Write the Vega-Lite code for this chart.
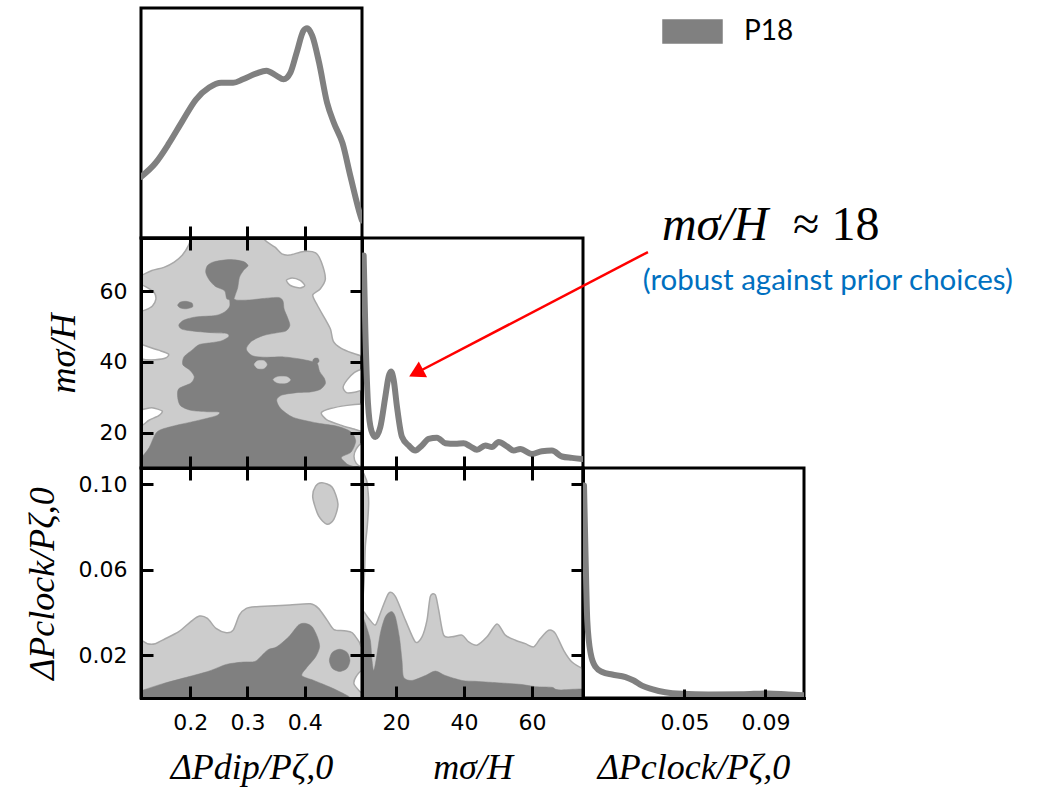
{
"$schema":"https://vega.github.io/schema/vega-lite/v6.json",
"background":"white",
"padding":{"left":22,"top":1,"right":5,"bottom":5},
"columns":3,
"spacing":0,
"bounds":"flush",
"config":{
"view":{"stroke":"black","strokeWidth":3},
"axis":{"domainColor":"black","domainWidth":3,"domainCap":"square","tickColor":"black","tickWidth":3,"tickSize":-12,"labelPadding":26,"labelFont":"DejaVu Sans","labelFontSize":22,"labelColor":"black","grid":false,"titleFont":"Liberation Serif","titleFontStyle":"italic","titleFontWeight":"normal","titleFontSize":36,"titleColor":"black","titlePadding":17}
},
"datasets":{
"d_dip":[{"dip":0.114,"dens":0.266},{"dip":0.139,"dens":0.325},{"dip":0.163,"dens":0.412},{"dip":0.186,"dens":0.507},{"dip":0.21,"dens":0.602},{"dip":0.233,"dens":0.654},{"dip":0.254,"dens":0.675},{"dip":0.275,"dens":0.675},{"dip":0.292,"dens":0.69},{"dip":0.316,"dens":0.716},{"dip":0.333,"dens":0.727},{"dip":0.351,"dens":0.705},{"dip":0.363,"dens":0.69},{"dip":0.375,"dens":0.719},{"dip":0.386,"dens":0.807},{"dip":0.398,"dens":0.902},{"dip":0.404,"dens":0.912},{"dip":0.413,"dens":0.88},{"dip":0.425,"dens":0.763},{"dip":0.439,"dens":0.588},{"dip":0.451,"dens":0.5},{"dip":0.466,"dens":0.412},{"dip":0.48,"dens":0.266},{"dip":0.498,"dens":0.091},{"dip":0.5,"dens":0.076}],
"d_m":[{"m":10.49,"dens":0.924},{"m":10.98,"dens":0.602},{"m":11.76,"dens":0.281},{"m":12.74,"dens":0.164},{"m":13.92,"dens":0.135},{"m":15.39,"dens":0.178},{"m":16.86,"dens":0.31},{"m":17.84,"dens":0.398},{"m":18.53,"dens":0.42},{"m":19.31,"dens":0.383},{"m":20.29,"dens":0.266},{"m":21.76,"dens":0.135},{"m":23.72,"dens":0.098},{"m":25.68,"dens":0.076},{"m":27.64,"dens":0.098},{"m":29.6,"dens":0.127},{"m":32.05,"dens":0.132},{"m":34.5,"dens":0.108},{"m":37.44,"dens":0.105},{"m":39.89,"dens":0.108},{"m":41.85,"dens":0.094},{"m":43.81,"dens":0.079},{"m":46.26,"dens":0.098},{"m":48.22,"dens":0.091},{"m":50.18,"dens":0.113},{"m":52.63,"dens":0.094},{"m":54.59,"dens":0.076},{"m":56.55,"dens":0.083},{"m":59.98,"dens":0.061},{"m":62.92,"dens":0.073},{"m":65.86,"dens":0.076},{"m":68.8,"dens":0.05},{"m":71.74,"dens":0.044},{"m":74.68,"dens":0.039}],
"d_clock":[{"clock":0.0005,"dens":0.924},{"clock":0.0013,"dens":0.602},{"clock":0.0021,"dens":0.339},{"clock":0.0038,"dens":0.193},{"clock":0.0062,"dens":0.135},{"clock":0.0095,"dens":0.113},{"clock":0.0144,"dens":0.102},{"clock":0.021,"dens":0.091},{"clock":0.025,"dens":0.076},{"clock":0.0291,"dens":0.054},{"clock":0.034,"dens":0.039},{"clock":0.0406,"dens":0.025},{"clock":0.0488,"dens":0.018},{"clock":0.0619,"dens":0.015},{"clock":0.0782,"dens":0.016},{"clock":0.0913,"dens":0.02},{"clock":0.1012,"dens":0.015},{"clock":0.1087,"dens":0.012}],
"c_dip_m":[
{"p":"W1","lv":"w","i":0,"dip":0.1,"m":77},{"p":"W1","lv":"w","i":1,"dip":0.204,"m":77},{"p":"W1","lv":"w","i":2,"dip":0.201,"m":75},{"p":"W1","lv":"w","i":3,"dip":0.197,"m":72.9},{"p":"W1","lv":"w","i":4,"dip":0.186,"m":70.1},{"p":"W1","lv":"w","i":5,"dip":0.172,"m":68.2},{"p":"W1","lv":"w","i":6,"dip":0.154,"m":66.7},{"p":"W1","lv":"w","i":7,"dip":0.133,"m":65.8},{"p":"W1","lv":"w","i":8,"dip":0.114,"m":64.4},{"p":"W1","lv":"w","i":9,"dip":0.1,"m":64},
{"p":"W2","lv":"w","i":0,"dip":0.324,"m":77},{"p":"W2","lv":"w","i":1,"dip":0.327,"m":75},{"p":"W2","lv":"w","i":2,"dip":0.334,"m":73.9},{"p":"W2","lv":"w","i":3,"dip":0.348,"m":72.4},{"p":"W2","lv":"w","i":4,"dip":0.36,"m":70.5},{"p":"W2","lv":"w","i":5,"dip":0.374,"m":70.2},{"p":"W2","lv":"w","i":6,"dip":0.398,"m":71.2},{"p":"W2","lv":"w","i":7,"dip":0.419,"m":70.8},{"p":"W2","lv":"w","i":8,"dip":0.429,"m":68.2},{"p":"W2","lv":"w","i":9,"dip":0.436,"m":63.4},{"p":"W2","lv":"w","i":10,"dip":0.427,"m":60.6},{"p":"W2","lv":"w","i":11,"dip":0.414,"m":58.9},{"p":"W2","lv":"w","i":12,"dip":0.422,"m":56},{"p":"W2","lv":"w","i":13,"dip":0.436,"m":52},{"p":"W2","lv":"w","i":14,"dip":0.445,"m":49.2},{"p":"W2","lv":"w","i":15,"dip":0.45,"m":45.8},{"p":"W2","lv":"w","i":16,"dip":0.463,"m":43.9},{"p":"W2","lv":"w","i":17,"dip":0.483,"m":42.5},{"p":"W2","lv":"w","i":18,"dip":0.5,"m":41.7},{"p":"W2","lv":"w","i":19,"dip":0.52,"m":41.7},{"p":"W2","lv":"w","i":20,"dip":0.52,"m":77},
{"p":"W3","lv":"w","i":0,"dip":0.114,"m":61.7},{"p":"W3","lv":"w","i":1,"dip":0.125,"m":61},{"p":"W3","lv":"w","i":2,"dip":0.137,"m":59.6},{"p":"W3","lv":"w","i":3,"dip":0.14,"m":57.7},{"p":"W3","lv":"w","i":4,"dip":0.134,"m":55.8},{"p":"W3","lv":"w","i":5,"dip":0.122,"m":54.7},{"p":"W3","lv":"w","i":6,"dip":0.114,"m":54.4},{"p":"W3","lv":"w","i":7,"dip":0.1,"m":55},{"p":"W3","lv":"w","i":8,"dip":0.1,"m":61},
{"p":"W4","lv":"w","i":0,"dip":0.114,"m":44.9},{"p":"W4","lv":"w","i":1,"dip":0.128,"m":44.2},{"p":"W4","lv":"w","i":2,"dip":0.145,"m":43.3},{"p":"W4","lv":"w","i":3,"dip":0.162,"m":42.2},{"p":"W4","lv":"w","i":4,"dip":0.157,"m":41.1},{"p":"W4","lv":"w","i":5,"dip":0.139,"m":40.6},{"p":"W4","lv":"w","i":6,"dip":0.122,"m":40.6},{"p":"W4","lv":"w","i":7,"dip":0.114,"m":40.8},{"p":"W4","lv":"w","i":8,"dip":0.1,"m":41},{"p":"W4","lv":"w","i":9,"dip":0.1,"m":45},
{"p":"W5","lv":"w","i":0,"dip":0.114,"m":26.5},{"p":"W5","lv":"w","i":1,"dip":0.133,"m":27},{"p":"W5","lv":"w","i":2,"dip":0.151,"m":26.1},{"p":"W5","lv":"w","i":3,"dip":0.145,"m":24.8},{"p":"W5","lv":"w","i":4,"dip":0.128,"m":23.5},{"p":"W5","lv":"w","i":5,"dip":0.116,"m":22.1},{"p":"W5","lv":"w","i":6,"dip":0.1,"m":22},{"p":"W5","lv":"w","i":7,"dip":0.1,"m":27},
{"p":"W6","lv":"w","i":0,"dip":0.368,"m":63},{"p":"W6","lv":"w","i":1,"dip":0.378,"m":63.7},{"p":"W6","lv":"w","i":2,"dip":0.392,"m":63},{"p":"W6","lv":"w","i":3,"dip":0.4,"m":61.6},{"p":"W6","lv":"w","i":4,"dip":0.392,"m":60.9},{"p":"W6","lv":"w","i":5,"dip":0.376,"m":61.5},
{"p":"W7","lv":"w","i":0,"dip":0.5,"m":37.9},{"p":"W7","lv":"w","i":1,"dip":0.487,"m":37},{"p":"W7","lv":"w","i":2,"dip":0.474,"m":34.9},{"p":"W7","lv":"w","i":3,"dip":0.467,"m":32.8},{"p":"W7","lv":"w","i":4,"dip":0.473,"m":31.3},{"p":"W7","lv":"w","i":5,"dip":0.487,"m":31.4},{"p":"W7","lv":"w","i":6,"dip":0.5,"m":32},{"p":"W7","lv":"w","i":7,"dip":0.52,"m":32},{"p":"W7","lv":"w","i":8,"dip":0.52,"m":38},
{"p":"W8","lv":"w","i":0,"dip":0.5,"m":28.1},{"p":"W8","lv":"w","i":1,"dip":0.474,"m":27.7},{"p":"W8","lv":"w","i":2,"dip":0.445,"m":26.8},{"p":"W8","lv":"w","i":3,"dip":0.429,"m":25.6},{"p":"W8","lv":"w","i":4,"dip":0.438,"m":23.7},{"p":"W8","lv":"w","i":5,"dip":0.463,"m":22.1},{"p":"W8","lv":"w","i":6,"dip":0.486,"m":21},{"p":"W8","lv":"w","i":7,"dip":0.5,"m":20.3},{"p":"W8","lv":"w","i":8,"dip":0.52,"m":20},{"p":"W8","lv":"w","i":9,"dip":0.52,"m":28},
{"p":"W9","lv":"w","i":0,"dip":0.5,"m":17},{"p":"W9","lv":"w","i":1,"dip":0.49,"m":15.4},{"p":"W9","lv":"w","i":2,"dip":0.486,"m":13.3},{"p":"W9","lv":"w","i":3,"dip":0.49,"m":11.3},{"p":"W9","lv":"w","i":4,"dip":0.5,"m":10.2},{"p":"W9","lv":"w","i":5,"dip":0.52,"m":9},{"p":"W9","lv":"w","i":6,"dip":0.52,"m":17},
{"p":"D1","lv":"d","i":0,"dip":0.23,"m":67.2},{"p":"D1","lv":"d","i":1,"dip":0.242,"m":68.3},{"p":"D1","lv":"d","i":2,"dip":0.269,"m":68.9},{"p":"D1","lv":"d","i":3,"dip":0.292,"m":68.4},{"p":"D1","lv":"d","i":4,"dip":0.301,"m":67.2},{"p":"D1","lv":"d","i":5,"dip":0.293,"m":65.8},{"p":"D1","lv":"d","i":6,"dip":0.286,"m":63.9},{"p":"D1","lv":"d","i":7,"dip":0.283,"m":61},{"p":"D1","lv":"d","i":8,"dip":0.279,"m":59.1},{"p":"D1","lv":"d","i":9,"dip":0.275,"m":57.6},{"p":"D1","lv":"d","i":10,"dip":0.264,"m":57.8},{"p":"D1","lv":"d","i":11,"dip":0.26,"m":60.1},{"p":"D1","lv":"d","i":12,"dip":0.244,"m":61.3},{"p":"D1","lv":"d","i":13,"dip":0.233,"m":63.2},{"p":"D1","lv":"d","i":14,"dip":0.227,"m":65.3},
{"p":"D2","lv":"d","i":0,"dip":0.269,"m":58.7},{"p":"D2","lv":"d","i":1,"dip":0.28,"m":57.5},{"p":"D2","lv":"d","i":2,"dip":0.304,"m":57.5},{"p":"D2","lv":"d","i":3,"dip":0.327,"m":57.9},{"p":"D2","lv":"d","i":4,"dip":0.354,"m":58.2},{"p":"D2","lv":"d","i":5,"dip":0.362,"m":57.2},{"p":"D2","lv":"d","i":6,"dip":0.364,"m":54.9},{"p":"D2","lv":"d","i":7,"dip":0.37,"m":52.5},{"p":"D2","lv":"d","i":8,"dip":0.374,"m":50.3},{"p":"D2","lv":"d","i":9,"dip":0.367,"m":48.7},{"p":"D2","lv":"d","i":10,"dip":0.351,"m":48.2},{"p":"D2","lv":"d","i":11,"dip":0.327,"m":47.4},{"p":"D2","lv":"d","i":12,"dip":0.307,"m":45.8},{"p":"D2","lv":"d","i":13,"dip":0.298,"m":43.6},{"p":"D2","lv":"d","i":14,"dip":0.309,"m":41.7},{"p":"D2","lv":"d","i":15,"dip":0.333,"m":41.3},{"p":"D2","lv":"d","i":16,"dip":0.363,"m":41.4},{"p":"D2","lv":"d","i":17,"dip":0.392,"m":40.8},{"p":"D2","lv":"d","i":18,"dip":0.413,"m":40.1},{"p":"D2","lv":"d","i":19,"dip":0.422,"m":39.5},{"p":"D2","lv":"d","i":20,"dip":0.426,"m":37.3},{"p":"D2","lv":"d","i":21,"dip":0.434,"m":35.4},{"p":"D2","lv":"d","i":22,"dip":0.436,"m":33.8},{"p":"D2","lv":"d","i":23,"dip":0.427,"m":32.2},{"p":"D2","lv":"d","i":24,"dip":0.41,"m":31.5},{"p":"D2","lv":"d","i":25,"dip":0.386,"m":31.3},{"p":"D2","lv":"d","i":26,"dip":0.36,"m":30.6},{"p":"D2","lv":"d","i":27,"dip":0.351,"m":29.2},{"p":"D2","lv":"d","i":28,"dip":0.358,"m":26.8},{"p":"D2","lv":"d","i":29,"dip":0.38,"m":24.3},{"p":"D2","lv":"d","i":30,"dip":0.422,"m":22.7},{"p":"D2","lv":"d","i":31,"dip":0.457,"m":21.8},{"p":"D2","lv":"d","i":32,"dip":0.481,"m":20.2},{"p":"D2","lv":"d","i":33,"dip":0.489,"m":17.6},{"p":"D2","lv":"d","i":34,"dip":0.481,"m":14.5},{"p":"D2","lv":"d","i":35,"dip":0.464,"m":13},{"p":"D2","lv":"d","i":36,"dip":0.474,"m":11.1},{"p":"D2","lv":"d","i":37,"dip":0.486,"m":8.5},{"p":"D2","lv":"d","i":38,"dip":0.104,"m":8.5},{"p":"D2","lv":"d","i":39,"dip":0.104,"m":12.1},{"p":"D2","lv":"d","i":40,"dip":0.114,"m":12.9},{"p":"D2","lv":"d","i":41,"dip":0.128,"m":15.7},{"p":"D2","lv":"d","i":42,"dip":0.142,"m":20.2},{"p":"D2","lv":"d","i":43,"dip":0.169,"m":21.8},{"p":"D2","lv":"d","i":44,"dip":0.21,"m":23.3},{"p":"D2","lv":"d","i":45,"dip":0.246,"m":24.8},{"p":"D2","lv":"d","i":46,"dip":0.25,"m":25.8},{"p":"D2","lv":"d","i":47,"dip":0.229,"m":25.9},{"p":"D2","lv":"d","i":48,"dip":0.201,"m":26.3},{"p":"D2","lv":"d","i":49,"dip":0.183,"m":27.6},{"p":"D2","lv":"d","i":50,"dip":0.178,"m":30},{"p":"D2","lv":"d","i":51,"dip":0.18,"m":32.4},{"p":"D2","lv":"d","i":52,"dip":0.201,"m":34},{"p":"D2","lv":"d","i":53,"dip":0.207,"m":35.8},{"p":"D2","lv":"d","i":54,"dip":0.199,"m":37.7},{"p":"D2","lv":"d","i":55,"dip":0.187,"m":39.2},{"p":"D2","lv":"d","i":56,"dip":0.189,"m":41.4},{"p":"D2","lv":"d","i":57,"dip":0.203,"m":43.3},{"p":"D2","lv":"d","i":58,"dip":0.216,"m":44.9},{"p":"D2","lv":"d","i":59,"dip":0.236,"m":45.4},{"p":"D2","lv":"d","i":60,"dip":0.254,"m":45.9},{"p":"D2","lv":"d","i":61,"dip":0.267,"m":47.1},{"p":"D2","lv":"d","i":62,"dip":0.264,"m":48},{"p":"D2","lv":"d","i":63,"dip":0.242,"m":48.2},{"p":"D2","lv":"d","i":64,"dip":0.21,"m":48.6},{"p":"D2","lv":"d","i":65,"dip":0.186,"m":49.2},{"p":"D2","lv":"d","i":66,"dip":0.18,"m":50.4},{"p":"D2","lv":"d","i":67,"dip":0.189,"m":51.8},{"p":"D2","lv":"d","i":68,"dip":0.21,"m":52.7},{"p":"D2","lv":"d","i":69,"dip":0.244,"m":53.1},{"p":"D2","lv":"d","i":70,"dip":0.26,"m":54.1},{"p":"D2","lv":"d","i":71,"dip":0.269,"m":55.8},
{"p":"D3","lv":"d","i":0,"dip":0.178,"m":56},{"p":"D3","lv":"d","i":1,"dip":0.183,"m":56.9},{"p":"D3","lv":"d","i":2,"dip":0.193,"m":57.1},{"p":"D3","lv":"d","i":3,"dip":0.203,"m":56.6},{"p":"D3","lv":"d","i":4,"dip":0.204,"m":55.5},{"p":"D3","lv":"d","i":5,"dip":0.193,"m":55},{"p":"D3","lv":"d","i":6,"dip":0.183,"m":55.2},
{"p":"D4","lv":"d","i":0,"dip":0.414,"m":40.3},{"p":"D4","lv":"d","i":1,"dip":0.417,"m":41},{"p":"D4","lv":"d","i":2,"dip":0.423,"m":41},{"p":"D4","lv":"d","i":3,"dip":0.425,"m":40.2},{"p":"D4","lv":"d","i":4,"dip":0.421,"m":39.5},{"p":"D4","lv":"d","i":5,"dip":0.416,"m":39.6},
{"p":"L1","lv":"l","i":0,"dip":0.312,"m":39.3},{"p":"L1","lv":"l","i":1,"dip":0.318,"m":40.3},{"p":"L1","lv":"l","i":2,"dip":0.329,"m":40.3},{"p":"L1","lv":"l","i":3,"dip":0.334,"m":39.2},{"p":"L1","lv":"l","i":4,"dip":0.328,"m":38.1},{"p":"L1","lv":"l","i":5,"dip":0.317,"m":38.2},
{"p":"L2","lv":"l","i":0,"dip":0.345,"m":35},{"p":"L2","lv":"l","i":1,"dip":0.353,"m":35.8},{"p":"L2","lv":"l","i":2,"dip":0.368,"m":35.8},{"p":"L2","lv":"l","i":3,"dip":0.375,"m":34.9},{"p":"L2","lv":"l","i":4,"dip":0.367,"m":34},{"p":"L2","lv":"l","i":5,"dip":0.352,"m":34.1}
],
"c_dip_clock":[
{"p":"L1","lv":"l","i":0,"dip":0.114,"clock":0.027},{"p":"L1","lv":"l","i":1,"dip":0.125,"clock":0.0254},{"p":"L1","lv":"l","i":2,"dip":0.139,"clock":0.0254},{"p":"L1","lv":"l","i":3,"dip":0.157,"clock":0.0278},{"p":"L1","lv":"l","i":4,"dip":0.18,"clock":0.031},{"p":"L1","lv":"l","i":5,"dip":0.201,"clock":0.0357},{"p":"L1","lv":"l","i":6,"dip":0.216,"clock":0.0383},{"p":"L1","lv":"l","i":7,"dip":0.23,"clock":0.0372},{"p":"L1","lv":"l","i":8,"dip":0.245,"clock":0.0325},{"p":"L1","lv":"l","i":9,"dip":0.263,"clock":0.0305},{"p":"L1","lv":"l","i":10,"dip":0.275,"clock":0.0317},{"p":"L1","lv":"l","i":11,"dip":0.286,"clock":0.0388},{"p":"L1","lv":"l","i":12,"dip":0.298,"clock":0.0419},{"p":"L1","lv":"l","i":13,"dip":0.316,"clock":0.0427},{"p":"L1","lv":"l","i":14,"dip":0.339,"clock":0.043},{"p":"L1","lv":"l","i":15,"dip":0.374,"clock":0.0435},{"p":"L1","lv":"l","i":16,"dip":0.41,"clock":0.044},{"p":"L1","lv":"l","i":17,"dip":0.424,"clock":0.0419},{"p":"L1","lv":"l","i":18,"dip":0.439,"clock":0.0364},{"p":"L1","lv":"l","i":19,"dip":0.451,"clock":0.032},{"p":"L1","lv":"l","i":20,"dip":0.469,"clock":0.0314},{"p":"L1","lv":"l","i":21,"dip":0.483,"clock":0.0305},{"p":"L1","lv":"l","i":22,"dip":0.495,"clock":0.0262},{"p":"L1","lv":"l","i":23,"dip":0.5,"clock":0.0239},{"p":"L1","lv":"l","i":24,"dip":0.52,"clock":0.0239},{"p":"L1","lv":"l","i":25,"dip":0.52,"clock":-0.004},{"p":"L1","lv":"l","i":26,"dip":0.1,"clock":-0.004},{"p":"L1","lv":"l","i":27,"dip":0.1,"clock":0.027},
{"p":"L2","lv":"l","i":0,"dip":0.43,"clock":0.1006},{"p":"L2","lv":"l","i":1,"dip":0.448,"clock":0.0985},{"p":"L2","lv":"l","i":2,"dip":0.458,"clock":0.0907},{"p":"L2","lv":"l","i":3,"dip":0.451,"clock":0.0836},{"p":"L2","lv":"l","i":4,"dip":0.439,"clock":0.0812},{"p":"L2","lv":"l","i":5,"dip":0.424,"clock":0.0852},{"p":"L2","lv":"l","i":6,"dip":0.414,"clock":0.0938},{"p":"L2","lv":"l","i":7,"dip":0.419,"clock":0.099},
{"p":"W1","lv":"w","i":0,"dip":0.5,"clock":0.0129},{"p":"W1","lv":"w","i":1,"dip":0.489,"clock":0.0097},{"p":"W1","lv":"w","i":2,"dip":0.486,"clock":0.0066},{"p":"W1","lv":"w","i":3,"dip":0.495,"clock":0.0034},{"p":"W1","lv":"w","i":4,"dip":0.5,"clock":0.0026},{"p":"W1","lv":"w","i":5,"dip":0.52,"clock":0.002},{"p":"W1","lv":"w","i":6,"dip":0.52,"clock":0.013},
{"p":"D1","lv":"d","i":0,"dip":0.114,"clock":0.0034},{"p":"D1","lv":"d","i":1,"dip":0.151,"clock":0.0066},{"p":"D1","lv":"d","i":2,"dip":0.198,"clock":0.01},{"p":"D1","lv":"d","i":3,"dip":0.233,"clock":0.0126},{"p":"D1","lv":"d","i":4,"dip":0.263,"clock":0.0157},{"p":"D1","lv":"d","i":5,"dip":0.292,"clock":0.0168},{"p":"D1","lv":"d","i":6,"dip":0.313,"clock":0.0171},{"p":"D1","lv":"d","i":7,"dip":0.325,"clock":0.0199},{"p":"D1","lv":"d","i":8,"dip":0.336,"clock":0.0226},{"p":"D1","lv":"d","i":9,"dip":0.351,"clock":0.0239},{"p":"D1","lv":"d","i":10,"dip":0.372,"clock":0.0286},{"p":"D1","lv":"d","i":11,"dip":0.389,"clock":0.0341},{"p":"D1","lv":"d","i":12,"dip":0.401,"clock":0.0349},{"p":"D1","lv":"d","i":13,"dip":0.413,"clock":0.0333},{"p":"D1","lv":"d","i":14,"dip":0.422,"clock":0.0286},{"p":"D1","lv":"d","i":15,"dip":0.426,"clock":0.0239},{"p":"D1","lv":"d","i":16,"dip":0.419,"clock":0.0192},{"p":"D1","lv":"d","i":17,"dip":0.404,"clock":0.0144},{"p":"D1","lv":"d","i":18,"dip":0.395,"clock":0.0105},{"p":"D1","lv":"d","i":19,"dip":0.416,"clock":0.0082},{"p":"D1","lv":"d","i":20,"dip":0.445,"clock":0.005},{"p":"D1","lv":"d","i":21,"dip":0.469,"clock":0.0019},{"p":"D1","lv":"d","i":22,"dip":0.48,"clock":0},{"p":"D1","lv":"d","i":23,"dip":0.486,"clock":-0.004},{"p":"D1","lv":"d","i":24,"dip":0.104,"clock":-0.004},{"p":"D1","lv":"d","i":25,"dip":0.104,"clock":0.0026},
{"p":"D2","lv":"d","i":0,"dip":0.443,"clock":0.0176},{"p":"D2","lv":"d","i":1,"dip":0.448,"clock":0.0213},{"p":"D2","lv":"d","i":2,"dip":0.461,"clock":0.0228},{"p":"D2","lv":"d","i":3,"dip":0.474,"clock":0.0213},{"p":"D2","lv":"d","i":4,"dip":0.479,"clock":0.0176},{"p":"D2","lv":"d","i":5,"dip":0.474,"clock":0.0139},{"p":"D2","lv":"d","i":6,"dip":0.461,"clock":0.0124},{"p":"D2","lv":"d","i":7,"dip":0.448,"clock":0.0139}
],
"c_m_clock":[
{"p":"L1","lv":"l","i":0,"m":10,"clock":0.0412},{"p":"L1","lv":"l","i":1,"m":11.96,"clock":0.0372},{"p":"L1","lv":"l","i":2,"m":13.92,"clock":0.0341},{"p":"L1","lv":"l","i":3,"m":15.39,"clock":0.0396},{"p":"L1","lv":"l","i":4,"m":17.84,"clock":0.049},{"p":"L1","lv":"l","i":5,"m":19.8,"clock":0.0475},{"p":"L1","lv":"l","i":6,"m":22.75,"clock":0.0364},{"p":"L1","lv":"l","i":7,"m":25.69,"clock":0.0262},{"p":"L1","lv":"l","i":8,"m":27.65,"clock":0.0286},{"p":"L1","lv":"l","i":9,"m":29.12,"clock":0.0364},{"p":"L1","lv":"l","i":10,"m":30.1,"clock":0.0475},{"p":"L1","lv":"l","i":11,"m":31.57,"clock":0.0482},{"p":"L1","lv":"l","i":12,"m":32.55,"clock":0.0412},{"p":"L1","lv":"l","i":13,"m":34.02,"clock":0.0294},{"p":"L1","lv":"l","i":14,"m":36.47,"clock":0.0286},{"p":"L1","lv":"l","i":15,"m":39.41,"clock":0.0294},{"p":"L1","lv":"l","i":16,"m":41.37,"clock":0.0262},{"p":"L1","lv":"l","i":17,"m":43.82,"clock":0.0247},{"p":"L1","lv":"l","i":18,"m":46.77,"clock":0.0286},{"p":"L1","lv":"l","i":19,"m":49.71,"clock":0.0346},{"p":"L1","lv":"l","i":20,"m":52.16,"clock":0.0294},{"p":"L1","lv":"l","i":21,"m":55.1,"clock":0.027},{"p":"L1","lv":"l","i":22,"m":58.04,"clock":0.0254},{"p":"L1","lv":"l","i":23,"m":60.49,"clock":0.0239},{"p":"L1","lv":"l","i":24,"m":62.45,"clock":0.0278},{"p":"L1","lv":"l","i":25,"m":64.9,"clock":0.0317},{"p":"L1","lv":"l","i":26,"m":66.86,"clock":0.0302},{"p":"L1","lv":"l","i":27,"m":69.31,"clock":0.0223},{"p":"L1","lv":"l","i":28,"m":71.76,"clock":0.0168},{"p":"L1","lv":"l","i":29,"m":75,"clock":0.0137},{"p":"L1","lv":"l","i":30,"m":77,"clock":0.013},{"p":"L1","lv":"l","i":31,"m":77,"clock":-0.004},{"p":"L1","lv":"l","i":32,"m":8,"clock":-0.004},{"p":"L1","lv":"l","i":33,"m":8,"clock":0.041},
{"p":"L2","lv":"l","i":0,"m":10.2,"clock":0.1056},{"p":"L2","lv":"l","i":1,"m":11,"clock":0.103},{"p":"L2","lv":"l","i":2,"m":11.47,"clock":0.1009},{"p":"L2","lv":"l","i":3,"m":11.96,"clock":0.0915},{"p":"L2","lv":"l","i":4,"m":11.57,"clock":0.0805},{"p":"L2","lv":"l","i":5,"m":10.98,"clock":0.071},{"p":"L2","lv":"l","i":6,"m":10.78,"clock":0.06},{"p":"L2","lv":"l","i":7,"m":10.39,"clock":0.049},{"p":"L2","lv":"l","i":8,"m":10,"clock":0.042},{"p":"L2","lv":"l","i":9,"m":8,"clock":0.042},{"p":"L2","lv":"l","i":10,"m":8,"clock":0.106},
{"p":"D1","lv":"d","i":0,"m":10,"clock":0.038},{"p":"D1","lv":"d","i":1,"m":10.98,"clock":0.0349},{"p":"D1","lv":"d","i":2,"m":12.45,"clock":0.027},{"p":"D1","lv":"d","i":3,"m":12.94,"clock":0.0176},{"p":"D1","lv":"d","i":4,"m":13.43,"clock":0.0129},{"p":"D1","lv":"d","i":5,"m":14.12,"clock":0.0176},{"p":"D1","lv":"d","i":6,"m":15.39,"clock":0.0302},{"p":"D1","lv":"d","i":7,"m":16.86,"clock":0.038},{"p":"D1","lv":"d","i":8,"m":18.63,"clock":0.0404},{"p":"D1","lv":"d","i":9,"m":19.8,"clock":0.038},{"p":"D1","lv":"d","i":10,"m":20.98,"clock":0.0286},{"p":"D1","lv":"d","i":11,"m":21.76,"clock":0.0176},{"p":"D1","lv":"d","i":12,"m":22.25,"clock":0.0097},{"p":"D1","lv":"d","i":13,"m":24.71,"clock":0.0082},{"p":"D1","lv":"d","i":14,"m":28.63,"clock":0.0105},{"p":"D1","lv":"d","i":15,"m":31.57,"clock":0.0126},{"p":"D1","lv":"d","i":16,"m":34.51,"clock":0.0105},{"p":"D1","lv":"d","i":17,"m":39.41,"clock":0.0082},{"p":"D1","lv":"d","i":18,"m":43.33,"clock":0.0078},{"p":"D1","lv":"d","i":19,"m":47.25,"clock":0.0074},{"p":"D1","lv":"d","i":20,"m":52.16,"clock":0.0069},{"p":"D1","lv":"d","i":21,"m":57.06,"clock":0.0063},{"p":"D1","lv":"d","i":22,"m":60.98,"clock":0.0053},{"p":"D1","lv":"d","i":23,"m":65.88,"clock":0.005},{"p":"D1","lv":"d","i":24,"m":67.84,"clock":0.0038},{"p":"D1","lv":"d","i":25,"m":77,"clock":0.0038},{"p":"D1","lv":"d","i":26,"m":77,"clock":-0.004},{"p":"D1","lv":"d","i":27,"m":8,"clock":-0.004},{"p":"D1","lv":"d","i":28,"m":8,"clock":0.038}
]
},
"concat":[
{
"width":221,"height":230,
"data":{"name":"d_dip"},
"mark":{"type":"line","interpolate":"monotone","strokeWidth":6,"strokeCap":"round","strokeJoin":"round","clip":true},
"encoding":{
"x":{"field":"dip","type":"quantitative","scale":{"domain":[0.114,0.5],"nice":false,"zero":false},"axis":{"orient":"bottom","values":[0.2,0.3,0.4],"labels":false,"title":null,"zindex":1}},
"y":{"field":"dens","type":"quantitative","scale":{"domain":[0,1],"nice":false,"zero":false},"axis":null},
"color":{"datum":"P18","type":"nominal","scale":{"domain":["P18"],"range":["#808080"]},"legend":{"orient":"none","legendX":521,"legendY":-7,"title":null,"padding":0,"symbolType":"M-1,-0.39H1V0.39H-1Z","symbolSize":3481,"symbolFillColor":"#808080","symbolStrokeColor":"#a0a0a0","symbolStrokeWidth":1.5,"labelFont":"Lato","labelFontSize":28,"labelColor":"black","labelOffset":21,"encode":{"symbols":{"update":{"fill":{"value":"#808080"},"stroke":{"value":"#a0a0a0"},"strokeWidth":{"value":1.5},"opacity":{"value":1}}}}}}
}
},
{"width":221,"height":230,"data":{"values":[]},"mark":"point","view":{"stroke":null}},
{"width":221,"height":230,"data":{"values":[]},"mark":"point","view":{"stroke":null}},
{
"width":221,"height":230,
"view":{"fill":"#cccccc"},
"data":{"name":"c_dip_m"},
"layer":[
{"transform":[{"filter":"datum.lv === 'w'"}],
"mark":{"type":"line","interpolate":"cardinal-closed","tension":0.2,"fill":"#ffffff","stroke":"#a8a8a8","strokeWidth":1.5,"strokeJoin":"round","clip":true},
"encoding":{
"x":{"field":"dip","type":"quantitative","scale":{"domain":[0.114,0.5],"nice":false,"zero":false},"axis":{"orient":"bottom","values":[0.2,0.3,0.4],"labels":false,"title":null,"zindex":1}},
"y":{"field":"m","type":"quantitative","scale":{"domain":[10,75],"nice":false,"zero":false},"axis":{"orient":"left","values":[20,40,60],"title":"mσ/H","zindex":1}},
"detail":{"field":"p"},"order":{"field":"i","type":"quantitative"}}},
{"transform":[{"filter":"datum.lv === 'd'"}],
"mark":{"type":"line","interpolate":"cardinal-closed","tension":0.2,"fill":"#808080","stroke":"#808080","strokeWidth":0.5,"clip":true},
"encoding":{
"x":{"field":"dip","type":"quantitative","axis":{"orient":"top","values":[0.2,0.3,0.4],"labels":false,"title":null,"zindex":1}},
"y":{"field":"m","type":"quantitative","axis":{"orient":"right","values":[20,40,60],"labels":false,"title":null,"zindex":1}},
"detail":{"field":"p"},"order":{"field":"i","type":"quantitative"}}},
{"transform":[{"filter":"datum.lv === 'l'"}],
"mark":{"type":"line","interpolate":"cardinal-closed","tension":0.2,"fill":"#cccccc","stroke":"#cccccc","strokeWidth":0.5,"clip":true},
"encoding":{
"x":{"field":"dip","type":"quantitative","axis":null},
"y":{"field":"m","type":"quantitative","axis":null},
"detail":{"field":"p"},"order":{"field":"i","type":"quantitative"}}}
],
"resolve":{"axis":{"x":"independent","y":"independent"}}
},
{
"width":221,"height":230,
"layer":[
{"data":{"name":"d_m"},
"mark":{"type":"line","interpolate":"monotone","strokeWidth":6,"strokeCap":"round","strokeJoin":"round","color":"#808080","clip":true},
"encoding":{
"x":{"field":"m","type":"quantitative","scale":{"domain":[10,75],"nice":false,"zero":false},"axis":{"orient":"bottom","values":[20,40,60],"labels":false,"title":null,"zindex":1}},
"y":{"field":"dens","type":"quantitative","scale":{"domain":[0,1],"nice":false,"zero":false},"axis":null}}},
{"data":{"values":[{"m":94.1,"dens":0.939,"m_end":25.9,"dens_end":0.413}]},
"mark":{"type":"rule","color":"#ff0000","strokeWidth":2.5},
"encoding":{
"x":{"field":"m","type":"quantitative","axis":null},"x2":{"field":"m_end"},
"y":{"field":"dens","type":"quantitative","axis":null},"y2":{"field":"dens_end"}}},
{"data":{"values":[{"m":25.9,"dens":0.413}]},
"mark":{"type":"point","shape":"triangle-up","filled":true,"color":"#ff0000","size":320,"angle":242.5,"opacity":1},
"encoding":{
"x":{"field":"m","type":"quantitative","axis":null},
"y":{"field":"dens","type":"quantitative","axis":null}}},
{"data":{"values":[{"m":98.2,"dens":0.991,"label":"mσ/H"}]},
"mark":{"type":"text","align":"left","baseline":"alphabetic","font":"Liberation Serif","fontStyle":"italic","fontSize":48,"color":"black"},
"encoding":{
"x":{"field":"m","type":"quantitative","axis":null},
"y":{"field":"dens","type":"quantitative","axis":null},
"text":{"field":"label"}}},
{"data":{"values":[{"m":136.8,"dens":0.991,"label":"≈ 18"}]},
"mark":{"type":"text","align":"left","baseline":"alphabetic","font":"Liberation Serif","fontSize":48,"color":"black"},
"encoding":{
"x":{"field":"m","type":"quantitative","axis":null},
"y":{"field":"dens","type":"quantitative","axis":null},
"text":{"field":"label"}}},
{"data":{"values":[{"m":92.6,"dens":0.774,"label":"(robust against prior choices)"}]},
"mark":{"type":"text","align":"left","baseline":"alphabetic","font":"Lato","fontSize":29.5,"color":"#0070c0"},
"encoding":{
"x":{"field":"m","type":"quantitative","axis":null},
"y":{"field":"dens","type":"quantitative","axis":null},
"text":{"field":"label"}}}
],
"resolve":{"axis":{"x":"independent","y":"independent"}}
},
{"width":221,"height":230,"data":{"values":[]},"mark":"point","view":{"stroke":null}},
{
"width":221,"height":230,
"data":{"name":"c_dip_clock"},
"layer":[
{"transform":[{"filter":"datum.lv === 'l'"}],
"mark":{"type":"line","interpolate":"cardinal-closed","tension":0.2,"fill":"#cccccc","stroke":"#a8a8a8","strokeWidth":1.5,"strokeJoin":"round","clip":true},
"encoding":{
"x":{"field":"dip","type":"quantitative","scale":{"domain":[0.114,0.5],"nice":false,"zero":false},"axis":{"orient":"bottom","values":[0.2,0.3,0.4],"format":".1f","title":"ΔPdip/Pζ,0","zindex":1}},
"y":{"field":"clock","type":"quantitative","scale":{"domain":[0,0.1075],"nice":false,"zero":false},"axis":{"orient":"left","values":[0.02,0.06,0.1],"format":".2f","title":"ΔPclock/Pζ,0","zindex":1}},
"detail":{"field":"p"},"order":{"field":"i","type":"quantitative"}}},
{"transform":[{"filter":"datum.lv === 'w'"}],
"mark":{"type":"line","interpolate":"cardinal-closed","tension":0.2,"fill":"#ffffff","stroke":"#a8a8a8","strokeWidth":1.5,"clip":true},
"encoding":{
"x":{"field":"dip","type":"quantitative","axis":null},
"y":{"field":"clock","type":"quantitative","axis":null},
"detail":{"field":"p"},"order":{"field":"i","type":"quantitative"}}},
{"transform":[{"filter":"datum.lv === 'd'"}],
"mark":{"type":"line","interpolate":"cardinal-closed","tension":0.2,"fill":"#808080","stroke":"#808080","strokeWidth":0.5,"clip":true},
"encoding":{
"x":{"field":"dip","type":"quantitative","axis":{"orient":"top","values":[0.2,0.3,0.4],"labels":false,"title":null,"zindex":1}},
"y":{"field":"clock","type":"quantitative","axis":{"orient":"right","values":[0.02,0.06,0.1],"labels":false,"title":null,"zindex":1}},
"detail":{"field":"p"},"order":{"field":"i","type":"quantitative"}}}
],
"resolve":{"axis":{"x":"independent","y":"independent"}}
},
{
"width":221,"height":230,
"data":{"name":"c_m_clock"},
"layer":[
{"transform":[{"filter":"datum.lv === 'l'"}],
"mark":{"type":"line","interpolate":"cardinal-closed","tension":0.2,"fill":"#cccccc","stroke":"#a8a8a8","strokeWidth":1.5,"strokeJoin":"round","clip":true},
"encoding":{
"x":{"field":"m","type":"quantitative","scale":{"domain":[10,75],"nice":false,"zero":false},"axis":{"orient":"bottom","values":[20,40,60],"title":"mσ/H","zindex":1}},
"y":{"field":"clock","type":"quantitative","scale":{"domain":[0,0.1075],"nice":false,"zero":false},"axis":{"orient":"left","values":[0.02,0.06,0.1],"labels":false,"title":null,"zindex":1}},
"detail":{"field":"p"},"order":{"field":"i","type":"quantitative"}}},
{"transform":[{"filter":"datum.lv === 'd'"}],
"mark":{"type":"line","interpolate":"cardinal-closed","tension":0.2,"fill":"#808080","stroke":"#808080","strokeWidth":0.5,"clip":true},
"encoding":{
"x":{"field":"m","type":"quantitative","axis":{"orient":"top","values":[20,40,60],"labels":false,"title":null,"zindex":1}},
"y":{"field":"clock","type":"quantitative","axis":{"orient":"right","values":[0.02,0.06,0.1],"labels":false,"title":null,"zindex":1}},
"detail":{"field":"p"},"order":{"field":"i","type":"quantitative"}}}
],
"resolve":{"axis":{"x":"independent","y":"independent"}}
},
{
"width":221,"height":230,
"data":{"name":"d_clock"},
"mark":{"type":"line","interpolate":"monotone","strokeWidth":6,"strokeCap":"round","strokeJoin":"round","color":"#808080","clip":true},
"encoding":{
"x":{"field":"clock","type":"quantitative","scale":{"domain":[0,0.109],"nice":false,"zero":false},"axis":{"orient":"bottom","values":[0.05,0.09],"format":".2f","tickSize":-9,"labelPadding":23,"title":"ΔPclock/Pζ,0","zindex":1}},
"y":{"field":"dens","type":"quantitative","scale":{"domain":[0,1],"nice":false,"zero":false},"axis":null}
}
}
]
}
